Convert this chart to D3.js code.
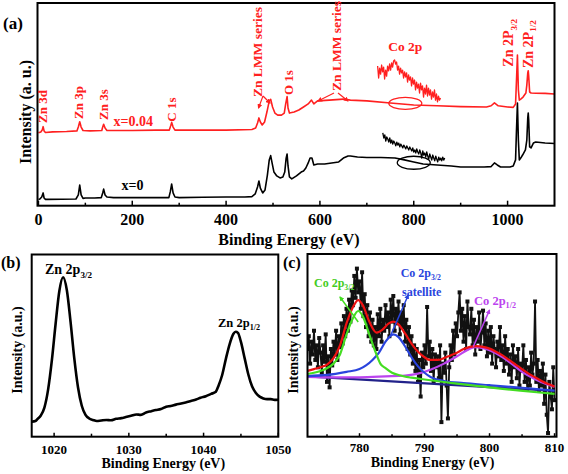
<!DOCTYPE html>
<html><head><meta charset="utf-8">
<script src="https://cdn.jsdelivr.net/npm/d3@7"></script>
<style>
body{margin:0;background:#fff}
svg{display:block}
text{font-family:"Liberation Serif","Times New Roman",serif;font-weight:bold}
</style>
</head><body>
<svg id="fig" width="568" height="474"></svg>
<script>
// ---------------- DATA ----------------
// Panel (a): survey spectra (binding energy eV, intensity a.u.)
const aBlackBE = [0,3,7,10,12,15,20,50,80,85,88,91,95,100,120,134,137,139,142,146,160,200,250,278,281,284,287,291,300,350,400,440,455,462,467,470,473,478,483,488,492,495,498,502,508,515,521,525,528,530,532,535,540,550,560,565,570,575,579,583,587,595,610,625,640,650,660,665,680,700,730,760,780,800,820,850,880,900,950,965,972,978,985,995,1005,1012,1017,1019,1021,1023,1025,1028,1032,1038,1041,1043,1044,1045,1047,1050,1055,1060,1080,1100];
const aBlackI  = [3.1,3.3,4.3,6.3,3.8,3.1,3.1,3.2,3.3,5.3,10.2,5.3,3.6,3.8,3.8,4.0,6.3,8.2,5.3,4.3,4.0,4.0,4.0,4.0,6.8,10.7,6.3,4.3,4.0,4.2,4.3,4.3,4.5,5.8,9.2,12.2,8.7,6.3,7.8,15.1,22.6,24.7,21.1,16.6,14.7,13.7,14.2,16.6,23.5,25.5,19.6,14.2,13.2,14.7,16.6,17.1,18.6,21.1,23.5,23.5,20.1,20.6,20.6,21.1,21.6,23.5,24.5,24.5,24.0,23.8,23.8,23.5,22.6,21.6,20.6,20.1,19.6,19.1,19.1,19.3,21.1,20.1,19.1,19.1,19.1,19.6,22.6,37.4,50.7,32.4,22.6,23.5,25.0,27.5,32.4,43.3,45.7,42.3,29.0,28.5,30.9,31.4,30.9,30.7];
const aRedBE = [0,5,8,10,12,15,30,60,82,85,88,91,95,110,135,137,139,142,146,200,250,279,282,284,287,291,350,400,455,463,467,470,473,477,482,487,492,495,499,504,510,518,524,527,530,532,535,545,555,565,575,582,587,595,620,650,665,700,750,800,850,900,955,965,972,980,1000,1012,1017,1019,1021,1023,1025,1028,1033,1039,1041,1043,1044,1045,1047,1050,1060,1080,1100];
const aRedI  = [36.0,36.4,37.3,39.0,36.9,36.1,36.4,36.6,36.9,38.8,41.4,38.8,37.1,36.9,37.1,38.8,40.2,38.3,37.1,37.1,37.3,37.3,39.5,41.1,38.8,37.3,37.3,37.3,37.6,38.3,40.8,43.3,41.3,39.8,41.3,46.2,51.7,52.5,48.7,45.7,44.7,44.7,45.7,50.2,53.8,48.2,45.7,46.2,47.2,48.7,50.2,52.1,50.2,51.7,52.1,52.6,52.1,51.7,50.7,49.7,49.3,48.9,48.7,49.3,50.7,49.3,48.7,48.5,50.2,62.0,74.3,57.2,52.1,52.6,53.6,55.6,59.5,65.5,66.6,64.0,56.1,55.6,55.5,55.4,55.1];
// Co 2p magnified insets (drawn in panel a coordinates)
const aRedInsetStart = 723, aRedInsetEnd = 857;
const aRedInsetI = [68.9,63,67.9,64.9,69.4,66,68.4,62.5,66.9,63.9,68.9,66.5,69.9,66.9,70.4,68.4,71.4,71.9,69.9,70.9,66.9,68.9,64.9,67.9,65.5,66.9,63,66,63.5,65.5,61,64.5,62,63.5,59.1,63,60,62,57.1,61,58,60,55.6,60.5,57.1,59.1,53.6,58,55.1,59.5,54.1,58,54.6,57.1,52.6,56.1,53.6,57.1,52.1,55.1,51.2,54.1,52.1,53.1];
const aBlackInsetStart = 734, aBlackInsetEnd = 866;
const aBlackInsetI = [35.9,33.4,34.9,31.9,33.9,32.9,31.4,33.4,30.9,32.4,30.4,31.9,30.9,29.5,31.4,29.9,30.9,29.0,30.4,29.5,28.5,29.9,29.0,28.0,29.5,28.5,27.5,29.0,28.0,27.0,28.5,26.5,27.5,26.0,28.0,26.5,25.5,27.5,26.0,23.5,27.0,25.0,26.0,24.0,26.5,24.5,23.0,25.5,24.0,22.5,25.0,23.5,22.1,24.5,23.0,21.6,24.0,22.5,23.5,22.1,24.0,22.5,23.5];
const aTicksMajor = [0,200,400,600,800,1000];
const aTicksMinor = [100,300,500,700,900];

// Panel (b): Zn 2p
const bBE = [1017,1017.5,1017.8,1018.2,1018.7,1019.2,1019.7,1020.2,1020.7,1021.2,1021.7,1022.2,1022.7,1023.2,1023.7,1024.2,1024.7,1025.2,1025.7,1026.3,1027,1027.6,1028.3,1029,1029.6,1030.3,1031,1031.6,1032.3,1033,1033.6,1034.3,1035,1035.6,1036.3,1037,1037.6,1038.3,1039,1039.6,1040.3,1041,1041.6,1042,1042.5,1043,1043.5,1044,1044.3,1044.6,1045,1045.5,1046,1046.5,1047,1047.5,1048,1048.5,1049,1049.5,1050];
const bI  = [8.2,8.6,9.8,11.5,16,26,42,62,80,87.5,80.5,63,43,27,17,12,10,9.2,8.6,8.9,9.2,9.0,9.8,10.2,10.8,11.5,12.2,12.0,13.3,14.0,14.6,15.2,16.5,16.9,17.6,18.2,18.8,19.6,20.4,21.4,22.2,23.5,24.5,28,34,43,51,56.5,57.6,57,52,43,34,27.5,24,22,21,20.6,20.6,20.2,20.3];
const bTicksMajor = [1020,1030,1040,1050];
const bTicksMinor = [1025,1035,1045];

// Panel (c): Co 2p high-resolution spectrum and fit
const cStart = 772, cStep = 0.2;
const cRaw = [48,55,40,52,45, 58,42,50,38,54, 46,35,50,41,56, 30,44,27,48,39, 52,45,58,42,55,
  49,62,51,66,55, 70,58,75,63,80, 72,88,76,92,79, 85,70,90,66,78, 60,72,55,68,52,
  64,50,60,48,67, 55,70,52,64,58, 72,60,68,55,75, 63,77,58,70,62, 74,56,68,60,72,
  52,64,48,60,45, 55,40,50,36,48, 30,42,22,46,38, 50,40,71,44,52, 36,48,30,45,38,
  44,32,50,8,40, 35,46,28,10,38, 50,42,58,45,62, 55,68,79,58,70, 52,66,48,74,60,
  56,70,50,64,45, 60,52,68,48,57, 69,50,62,44,58, 46,60,40,55,48, 38,52,44,60,42,
  50,36,55,40,48, 34,45,30,50,38, 44,32,48,28,40, 36,50,30,42,26, 38,28,46,34,40,
  74,30,42,25,36, 28,40,18,34,12, 2,30,22,15,38, 20];
const cBaseBE = [772,810];
const cBaseI  = [33,25];
const cGreenBE = [772,774,775,776,777,778,779,779.8,780.5,781.5,782.5,783.2,784,785,786,788,790,794,798,802,806,810];
const cGreenI  = [34.3,36,37.5,40,45,56,65,68.8,66,56,46,40,37.5,35,33.8,32.3,31.3,29.5,27.8,26.2,24.8,23.4];
const cBlueBE = [772,775,778,780,781,782,783,784,785.2,786,787,788,789,790,791,793,796,800,805,810];
const cBlueI  = [33.2,33.8,35.5,37,39,42,46,52,56,54.5,49.5,43.5,38.5,35,32.5,30.5,29.3,28.2,26.8,25.3];
const cMagBE = [772,776,780,784,787,789,791,793,795,797,797.8,799,801,803,805,807,809,810];
const cMagI  = [32.8,32.5,32.5,33,33.5,34.5,36.8,40,44,48.2,49,48.5,45.6,41,35.5,31.5,28.5,27.4];
const cRedBE = [772,773,774,775,776,777,778,779,779.8,780.5,781.5,782.6,783.5,784.5,785.2,786,787,788,789,790,790.8,792,793,794,795,796,797,798,799,800,801,802,803,804,805,806,807,808,809,810];
const cRedI  = [36,37,38,39.5,43,50,62,71,74.8,72,63,57,58.5,62,63,61.5,56.5,51,46.5,43.5,42,42,43,44.5,46,48,49.2,49.6,49.2,48.2,46.5,44.5,42,39.5,37,34.5,32.5,30.5,28.8,27.4];
const cTicksMajor = [780,790,800,810];
const cTicksMinor = [775,785,795,805];

// ---------------- DRAW ----------------
const svg = d3.select("#fig");

const xa = d3.scaleLinear().domain([-2,1100]).range([37.5,554.5]);
const ya = d3.scaleLinear().domain([0,100]).range([205.7,3]);
const xb = d3.scaleLinear().domain([1017,1050]).range([31.7,278.3]);
const yb = d3.scaleLinear().domain([0,100]).range([436.7,254.5]);
const xc = d3.scaleLinear().domain([772,810.3]).range([307.5,556.5]);
const yc = d3.scaleLinear().domain([0,100]).range([436.7,254]);

const defs = svg.append("defs");
function clip(id,x,y){
  const r = x.range(), s = y.range();
  defs.append("clipPath").attr("id",id).append("rect")
    .attr("x",r[0]).attr("y",s[1]).attr("width",r[1]-r[0]).attr("height",s[0]-s[1]);
}
clip("ca",xa,ya); clip("cb",xb,yb); clip("cc",xc,yc);
function marker(id,color){
  defs.append("marker").attr("id",id).attr("viewBox","0 0 10 10").attr("refX",8).attr("refY",5)
    .attr("markerWidth",5).attr("markerHeight",5).attr("orient","auto-start-reverse").attr("markerUnits","userSpaceOnUse")
    .append("path").attr("d","M0,0L10,5L0,10z").attr("fill",color);
}
marker("mr","#ff2020"); marker("mg","#44dd22"); marker("mbl","#2a44dd"); marker("mm","#bb44ee");

function frame(x,y){
  const r = x.range(), s = y.range();
  svg.append("rect").attr("x",r[0]).attr("y",s[1]).attr("width",r[1]-r[0]).attr("height",s[0]-s[1])
    .attr("fill","none").attr("stroke","#000").attr("stroke-width",2);
}
function ticks(x,y,majors,minors,majLen,minLen,fs,labelY){
  const y0 = y.range()[0];
  const g = svg.append("g");
  majors.forEach(v=>{
    g.append("line").attr("x1",x(v)).attr("x2",x(v)).attr("y1",y0).attr("y2",y0-majLen).attr("stroke","#000").attr("stroke-width",1.5);
    g.append("text").attr("x",x(v)).attr("y",labelY).attr("text-anchor","middle").attr("font-size",fs).text(v);
  });
  minors.forEach(v=>{
    g.append("line").attr("x1",x(v)).attr("x2",x(v)).attr("y1",y0).attr("y2",y0-minLen).attr("stroke","#000").attr("stroke-width",1.5);
  });
}
function path(xs,ys,x,y,color,w,clipId,curve){
  const pts = xs.map((v,i)=>[v,ys[i]]);
  svg.append("path").datum(pts)
    .attr("d",d3.line().x(d=>x(d[0])).y(d=>y(d[1])).curve(curve||d3.curveLinear))
    .attr("fill","none").attr("stroke",color).attr("stroke-width",w).attr("stroke-linejoin","round")
    .attr("clip-path",clipId?`url(#${clipId})`:null);
}
function text(x,y,str,fs,color,opts={}){
  const t = svg.append("text").attr("x",x).attr("y",y).attr("font-size",fs).attr("fill",color||"#000")
    .attr("text-anchor",opts.anchor||"start");
  if(opts.weight) t.attr("font-weight",opts.weight);
  if(opts.rotate!==undefined) t.attr("transform",`rotate(${opts.rotate},${x},${y})`);
  t.text(str);
  return t;
}
function subText(x,y,main,sub,fs,color,opts={}){
  const t = svg.append("text").attr("x",x).attr("y",y).attr("font-size",fs).attr("fill",color)
    .attr("text-anchor",opts.anchor||"start");
  if(opts.weight) t.attr("font-weight",opts.weight);
  if(opts.rotate!==undefined) t.attr("transform",`rotate(${opts.rotate},${x},${y})`);
  t.append("tspan").text(main);
  t.append("tspan").attr("font-size",fs*0.65).attr("dy",fs*0.25).text(sub);
  return t;
}
function arrow(x1,y1,x2,y2,color,mk,w){
  svg.append("line").attr("x1",x1).attr("y1",y1).attr("x2",x2).attr("y2",y2)
    .attr("stroke",color).attr("stroke-width",w||1.5).attr("marker-end",`url(#${mk})`);
}

// ===== Panel (a) =====
const RED = "#ff2020";
path(aBlackBE,aBlackI,xa,ya,"#000",1.6,"ca");
path(aRedBE,aRedI,xa,ya,RED,1.6,"ca");
const insR = aRedInsetI.map((v,i)=>aRedInsetStart + i*(aRedInsetEnd-aRedInsetStart)/(aRedInsetI.length-1));
path(insR,aRedInsetI,xa,ya,RED,1.3);
const insB = aBlackInsetI.map((v,i)=>aBlackInsetStart + i*(aBlackInsetEnd-aBlackInsetStart)/(aBlackInsetI.length-1));
path(insB,aBlackInsetI,xa,ya,"#000",1.3);
svg.append("ellipse").attr("cx",xa(782)).attr("cy",ya(50.5)).attr("rx",16.5).attr("ry",6).attr("fill","none").attr("stroke",RED).attr("stroke-width",1.3);
svg.append("ellipse").attr("cx",xa(800)).attr("cy",ya(21.2)).attr("rx",16.5).attr("ry",6.5).attr("fill","none").attr("stroke","#000").attr("stroke-width",1.3);
frame(xa,ya);
ticks(xa,ya,aTicksMajor,aTicksMinor,5,3,16,224.5);
text(289,244.5,"Binding Energy (eV)",16,"#000",{anchor:"middle"});
text(31,112,"Intensity (a. u.)",16,"#000",{anchor:"middle",rotate:-90});
text(3,29,"(a)",17,"#000");
// peak labels
const vl = [["Zn 3d",9.6,123],["Zn 3p",86,119],["Zn 3s",139.5,120],["C 1s",283.7,121.7],["O 1s",534,95]];
vl.forEach(([s,be,yb0])=>text(xa(be)+4.5,yb0,s,13,RED,{rotate:-90}));
text(xa(466)+5,97,"Zn LMM series",13.5,RED,{rotate:-90,weight:"normal"});
text(xa(634)+5,91,"Zn LMM series",13.5,RED,{rotate:-90,weight:"normal"});
subText(xa(1001)+5,66.7,"Zn 2P","3/2",14,RED,{rotate:-90,weight:"normal"});
subText(xa(1043.5)+5,68,"Zn 2P","1/2",14,RED,{rotate:-90,weight:"normal"});
text(xa(782),51,"Co 2p",13.5,RED,{anchor:"middle"});
text(xa(160),126,"x=0.04",14,RED);
text(xa(177),189.5,"x=0",14,"#000");
arrow(263,96,258.5,108,RED,"mr",1.2);
arrow(263,96,270,103,RED,"mr",1.2);
arrow(334,93,318,101,RED,"mr",1.2);
arrow(338,93,348,101,RED,"mr",1.2);

// ===== Panel (b) =====
path(bBE,bI,xb,yb,"#000",2.6,"cb",d3.curveMonotoneX);
frame(xb,yb);
ticks(xb,yb,bTicksMajor,bTicksMinor,4,3,13,453.5);
text(163.3,467.5,"Binding Energy (eV)",14,"#000",{anchor:"middle"});
text(21.7,350,"Intensity (a.u.)",14,"#000",{anchor:"middle",rotate:-90});
text(1,268,"(b)",16,"#000");
subText(45,274,"Zn 2p","3/2",14,"#000");
subText(218,327,"Zn 2p","1/2",12.5,"#000");

// ===== Panel (c) =====
const cBE = cRaw.map((v,i)=>cStart + i*cStep);
path(cBE,cRaw,xc,yc,"#111",1.8,"cc");
svg.append("g").attr("clip-path","url(#cc)").selectAll("rect").data(cRaw).join("rect")
  .attr("x",(d,i)=>xc(cBE[i])-2).attr("y",d=>yc(d)-2).attr("width",4).attr("height",4).attr("fill","#111");
path(cBaseBE,cBaseI,xc,yc,"#22228a",2.2,"cc");
path(cMagBE,cMagI,xc,yc,"#bb44ee",2.2,"cc",d3.curveMonotoneX);
path(cBlueBE,cBlueI,xc,yc,"#2a44dd",2.2,"cc",d3.curveMonotoneX);
path(cGreenBE,cGreenI,xc,yc,"#44dd22",2.2,"cc",d3.curveMonotoneX);
path(cRedBE,cRedI,xc,yc,"#ee1111",2.2,"cc",d3.curveMonotoneX);
frame(xc,yc);
ticks(xc,yc,cTicksMajor,cTicksMinor,3.5,2.5,13,451.7);
text(432.5,466.7,"Binding Energy (eV)",14,"#000",{anchor:"middle"});
text(298,350,"Intensity (a.u.)",14,"#000",{anchor:"middle",rotate:-90});
text(283,268,"(c)",16,"#000");
arrow(xc(779.8),yc(62.8),xc(777),yc(76.5),"#44dd22","mg",1.5);
arrow(xc(784.7),yc(54.7),xc(787.5),yc(77.6),"#2a44dd","mbl",1.5);
arrow(xc(797.5),yc(49.3),xc(800),yc(69.3),"#bb44ee","mm",1.5);
subText(314,287,"Co 2p","3/2",12,"#44cc22");
subText(400.7,277,"Co 2p","3/2",12,"#2a44dd");
text(402,296,"satellite",12,"#2a44dd");
subText(474,305,"Co 2p","1/2",12.5,"#bb44ee");
</script>
</body></html>
